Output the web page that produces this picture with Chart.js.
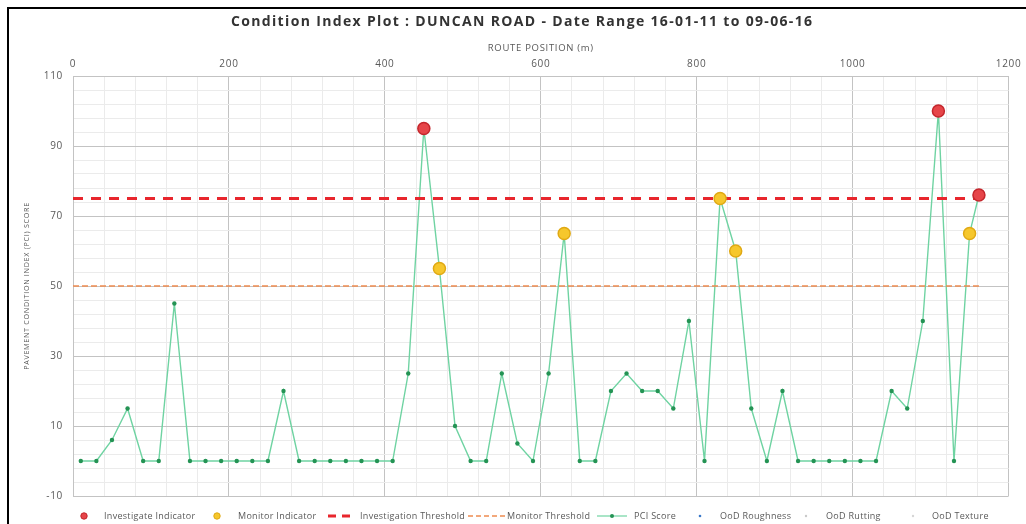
<!DOCTYPE html>
<html>
<head>
<meta charset="utf-8">
<script src="https://cdn.jsdelivr.net/npm/chart.js@4.4.1/dist/chart.umd.min.js"></script>
<style>
  html, body { margin: 0; padding: 0; background: #ffffff; }
  #wrap { width: 1026px; height: 524px; position: relative; }
</style>
</head>
<body>
<div id="wrap"><canvas id="c" width="1026" height="524"></canvas></div>
<script>
// ---------------- DATA ----------------
const TITLE = 'Condition Index Plot : DUNCAN ROAD - Date Range 16-01-11 to 09-06-16';
const X_TITLE = 'ROUTE POSITION (m)';
const Y_TITLE = 'PAVEMENT CONDITION INDEX (PCI) SCORE';

const X_TICKS = [0, 200, 400, 600, 800, 1000, 1200];
const Y_TICKS = [-10, 10, 30, 50, 70, 90, 110];

const PCI_X = [10, 30, 50, 70, 90, 110, 130, 150, 170, 190, 210, 230, 250, 270, 290, 310, 330, 350, 370, 390,
               410, 430, 450, 470, 490, 510, 530, 550, 570, 590, 610, 630, 650, 670, 690, 710, 730, 750, 770, 790,
               810, 830, 850, 870, 890, 910, 930, 950, 970, 990, 1010, 1030, 1050, 1070, 1090, 1110, 1130, 1150, 1162];
const PCI_Y = [0, 0, 6, 15, 0, 0, 45, 0, 0, 0, 0, 0, 0, 20, 0, 0, 0, 0, 0, 0,
               0, 25, 95, 55, 10, 0, 0, 25, 5, 0, 25, 65, 0, 0, 20, 25, 20, 20, 15, 40,
               0, 75, 60, 15, 0, 20, 0, 0, 0, 0, 0, 0, 20, 15, 40, 100, 0, 65, 76];

const INVESTIGATE_X = [450, 1110, 1162];
const INVESTIGATE_Y = [95, 100, 76];
const MONITOR_X = [470, 630, 830, 850, 1150];
const MONITOR_Y = [55, 65, 75, 60, 65];

const THRESHOLD_X = [0, 1162];
const INVESTIGATION_THRESHOLD = [75, 75];
const MONITOR_THRESHOLD = [50, 50];

const LEGEND_LABELS = ['Investigate Indicator', 'Monitor Indicator', 'Investigation Threshold', 'Monitor Threshold',
                       'PCI Score', 'OoD Roughness', 'OoD Rutting', 'OoD Texture'];

// ---------------- STYLE ----------------
const FONT = "'Open Sans', 'Liberation Sans', sans-serif";
const TXT = '#595959';
const RED_FILL = '#e64549', RED_EDGE = '#c4262c';
const YEL_FILL = '#f6c72c', YEL_EDGE = '#e0a914';
const INV_LINE = '#e8262d', MON_LINE = '#ee8c50';
const PCI_LINE = '#6fd3a2', PCI_PT = '#249354';
const GRID_MAJOR = '#c3c3c3', GRID_MINOR = '#ebebeb';

const pts = (xs, ys) => xs.map((x, i) => ({ x: x, y: ys[i] }));
const subdivide = (arr, n) => {
  const out = [];
  for (let i = 0; i < arr.length - 1; i++) {
    const step = (arr[i + 1] - arr[i]) / n;
    for (let k = 0; k < n; k++) out.push(arr[i] + k * step);
  }
  out.push(arr[arr.length - 1]);
  return out;
};
const X_GRID = subdivide(X_TICKS, 5);
const Y_GRID = subdivide(Y_TICKS, 5);

// frame, title + legend plugin
const framePlugin = {
  id: 'frame',
  beforeDraw(chart) {
    const ctx = chart.ctx;
    ctx.save();
    ctx.fillStyle = '#ffffff';
    ctx.fillRect(0, 0, chart.width, chart.height);
    ctx.restore();
    ctx.letterSpacing = '0.7px';
  },
  afterDraw(chart) {
    const ctx = chart.ctx;
    ctx.save();
    ctx.strokeStyle = '#000000';
    ctx.lineWidth = 2;
    ctx.strokeRect(8, 8, 1040, 540);

    // title (letter-spaced to match)
    ctx.font = 'bold 14px ' + FONT;
    ctx.letterSpacing = '0px';
    const w0 = ctx.measureText(TITLE).width;
    const ls = Math.max(0, (581 - w0) / (TITLE.length - 1));
    ctx.letterSpacing = ls.toFixed(2) + 'px';
    ctx.fillStyle = '#333333';
    ctx.textAlign = 'left';
    ctx.textBaseline = 'middle';
    ctx.fillText(TITLE, 231, 22);

    // legend
    const y = 516;
    ctx.font = '9px ' + FONT;
    ctx.letterSpacing = '0.3px';
    ctx.fillStyle = TXT;
    const textX = [104, 238, 360, 507, 634, 720, 826, 932];
    LEGEND_LABELS.forEach((t, i) => ctx.fillText(t, textX[i], y));
    const dot = (x, r, fill, edge) => {
      ctx.beginPath(); ctx.arc(x, y, r, 0, Math.PI * 2);
      ctx.fillStyle = fill; ctx.fill();
      if (edge) { ctx.strokeStyle = edge; ctx.lineWidth = 1; ctx.stroke(); }
    };
    dot(84, 3.2, RED_FILL, RED_EDGE);
    dot(217, 3.2, YEL_FILL, YEL_EDGE);
    ctx.lineWidth = 3; ctx.strokeStyle = INV_LINE; ctx.setLineDash([8, 6]);
    ctx.beginPath(); ctx.moveTo(328, y); ctx.lineTo(352, y); ctx.stroke();
    ctx.lineWidth = 1.5; ctx.strokeStyle = MON_LINE; ctx.setLineDash([5, 3]);
    ctx.beginPath(); ctx.moveTo(468, y); ctx.lineTo(505, y); ctx.stroke();
    ctx.setLineDash([]);
    ctx.lineWidth = 1.2; ctx.strokeStyle = PCI_LINE;
    ctx.beginPath(); ctx.moveTo(597, y); ctx.lineTo(627, y); ctx.stroke();
    dot(612, 2, PCI_PT);
    dot(700, 1.3, '#3a78c9');
    dot(806, 1.2, '#c9c9c9');
    dot(913, 1.2, '#d5d5d5');
    ctx.restore();
  }
};

new Chart(document.getElementById('c'), {
  type: 'scatter',
  data: {
    datasets: [
      { label: LEGEND_LABELS[0], data: pts(INVESTIGATE_X, INVESTIGATE_Y), showLine: false,
        pointRadius: 6, pointHoverRadius: 6, backgroundColor: RED_FILL, borderColor: RED_EDGE, pointBorderWidth: 1.5 },
      { label: LEGEND_LABELS[1], data: pts(MONITOR_X, MONITOR_Y), showLine: false,
        pointRadius: 6, pointHoverRadius: 6, backgroundColor: YEL_FILL, borderColor: YEL_EDGE, pointBorderWidth: 1.5 },
      { label: LEGEND_LABELS[2], data: pts(THRESHOLD_X, INVESTIGATION_THRESHOLD), showLine: true,
        pointRadius: 0, borderColor: INV_LINE, borderWidth: 3, borderDash: [10, 8] },
      { label: LEGEND_LABELS[3], data: pts(THRESHOLD_X, MONITOR_THRESHOLD), showLine: true,
        pointRadius: 0, borderColor: MON_LINE, borderWidth: 1.5, borderDash: [6, 3] },
      { label: LEGEND_LABELS[4], data: pts(PCI_X, PCI_Y), showLine: true,
        borderColor: PCI_LINE, borderWidth: 1.4, pointRadius: 2.2, pointBackgroundColor: PCI_PT,
        pointBorderColor: PCI_PT, pointBorderWidth: 0, tension: 0 },
      { label: LEGEND_LABELS[5], data: [], pointRadius: 1.5, backgroundColor: '#3a78c9' },
      { label: LEGEND_LABELS[6], data: [], pointRadius: 1.5, backgroundColor: '#c9c9c9' },
      { label: LEGEND_LABELS[7], data: [], pointRadius: 1.5, backgroundColor: '#d5d5d5' }
    ]
  },
  options: {
    responsive: false,
    animation: false,
    layout: { padding: { top: 33.6, left: 0, right: 13, bottom: 28 } },
    plugins: {
      legend: { display: false },
      tooltip: { enabled: false },
      title: { display: false }
    },
    scales: {
      x: {
        type: 'linear', position: 'top', min: 0, max: 1200,
        afterFit: s => { s.height = 42.4; },
        afterBuildTicks: s => { s.ticks = X_GRID.map(v => ({ value: v })); },
        ticks: {
          autoSkip: false, maxRotation: 0, padding: 6, color: TXT,
          font: { family: FONT, size: 10 },
          callback: v => (X_TICKS.includes(v) ? String(v) : '')
        },
        grid: {
          drawTicks: false, lineWidth: 1,
          color: c => (c.tick && X_TICKS.includes(c.tick.value) ? GRID_MAJOR : GRID_MINOR)
        },
        border: { display: true, color: GRID_MAJOR },
        title: { display: true, text: X_TITLE, color: TXT, font: { family: FONT, size: 9.5 }, padding: { top: 8.5, bottom: 0 } }
      },
      y: {
        type: 'linear', min: -10, max: 110,
        afterFit: s => { s.width = 73; },
        afterBuildTicks: s => { s.ticks = Y_GRID.map(v => ({ value: v })); },
        ticks: {
          autoSkip: false, padding: 10, color: TXT,
          font: { family: FONT, size: 10 },
          callback: v => (Y_TICKS.includes(v) ? String(v) : '')
        },
        grid: {
          drawTicks: false, lineWidth: 1,
          color: c => (c.tick && Y_TICKS.includes(c.tick.value) ? GRID_MAJOR : GRID_MINOR)
        },
        border: { display: true, color: GRID_MAJOR },
        title: { display: true, text: Y_TITLE, color: TXT, font: { family: FONT, size: 7.2 }, padding: { top: 23, bottom: 0 } }
      }
    }
  },
  plugins: [framePlugin]
});
</script>
</body>
</html>
